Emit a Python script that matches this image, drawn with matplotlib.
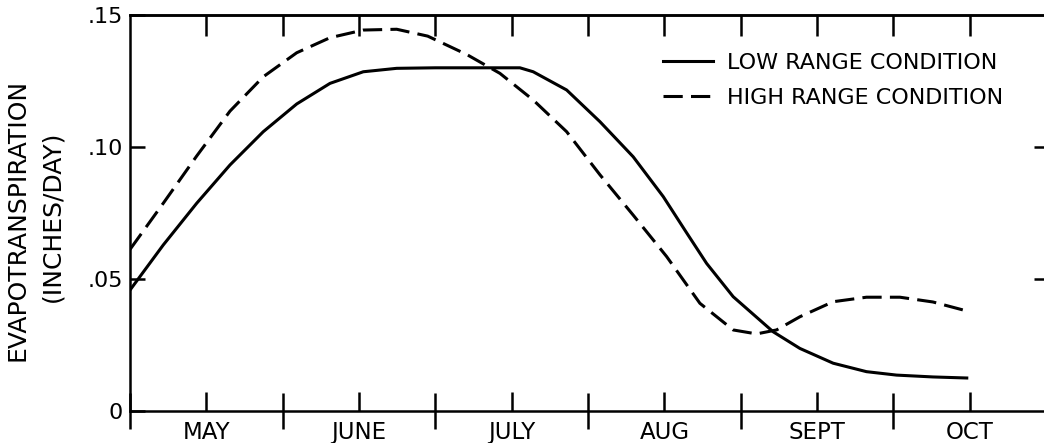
import numpy as np
import matplotlib
matplotlib.use("Agg")
from matplotlib import pyplot as plt

# x in months since May 1
months = ["MAY", "JUNE", "JULY", "AUG", "SEPT", "OCT"]

low_x = [0.0, 0.218, 0.437, 0.655, 0.873, 1.092, 1.310, 1.528, 1.747, 2.0, 2.3,
         2.554, 2.641, 2.860, 3.078, 3.296, 3.493, 3.646, 3.777, 3.951, 4.213,
         4.388, 4.606, 4.824, 5.021, 5.259, 5.481]
low_y = [0.0458, 0.0629, 0.0787, 0.0932, 0.1058, 0.1163, 0.1241, 0.1285, 0.1298, 0.130, 0.130,
         0.130, 0.1285, 0.1216, 0.1096, 0.0963, 0.0812, 0.0675, 0.0559, 0.0433, 0.0300,
         0.0237, 0.0181, 0.0149, 0.0136, 0.0129, 0.0125]

high_x = [0.0, 0.218, 0.437, 0.655, 0.873, 1.092, 1.310, 1.528, 1.747, 1.95, 2.207,
          2.423, 2.641, 2.860, 3.078, 3.296, 3.515, 3.733, 3.951, 4.104, 4.235,
          4.388, 4.606, 4.824, 5.043, 5.259, 5.481]
high_y = [0.0612, 0.0787, 0.0966, 0.1136, 0.1266, 0.1357, 0.1414, 0.1443, 0.1446, 0.142, 0.1350,
          0.1279, 0.1178, 0.1058, 0.0895, 0.0742, 0.0585, 0.0408, 0.0307, 0.0292, 0.0307,
          0.0357, 0.0414, 0.0431, 0.0431, 0.0413, 0.0379]

yticks = [0, 0.05, 0.10, 0.15]
ytick_labels = ["0", ".05", ".10", ".15"]

plt.rcParams['font.family'] = ['DejaVu Sans']

fig = plt.figure(figsize=(10.44, 4.43), dpi=100)
W, H = 1044.0, 443.0
ax = fig.add_axes([130 / W, 32 / H, (1046 - 130) / W, (411 - 15) / H])

ax.plot(low_x, low_y, color='black', lw=2.2, solid_joinstyle='round',
        label="LOW RANGE CONDITION")
ax.plot(high_x, high_y, color='black', lw=2.2, dashes=(6.3, 2.7),
        dash_joinstyle='round', label="HIGH RANGE CONDITION")

ax.set_xlim(0, 6)
ax.set_ylim(0, 0.15)

for s in ax.spines.values():
    s.set_linewidth(1.8)

# bottom: month boundaries cross the axis, labels at mid month
ax.set_xticks(np.arange(0, 7))
ax.set_xticklabels([])
ax.set_xticks(np.arange(0.5, 6, 1), minor=True)
ax.set_xticklabels(months, minor=True, fontsize=16.5)
ax.tick_params(axis='x', which='major', direction='inout', length=26, width=1.8)
ax.tick_params(axis='x', which='minor', direction='in', length=14, width=1.8, pad=7)

ax.set_yticks(yticks)
ax.set_yticklabels(ytick_labels, fontsize=16)
ax.tick_params(axis='y', direction='in', length=11, width=1.8, pad=5)

top = ax.secondary_xaxis('top')
top.set_xticks(np.arange(0.5, 6.5, 0.5))
top.set_xticklabels([])
top.tick_params(direction='in', length=15, width=1.8)
top.spines['top'].set_linewidth(1.8)

right = ax.secondary_yaxis('right')
right.set_yticks([0.05, 0.10])
right.set_yticklabels([])
right.tick_params(direction='in', length=9, width=1.8)

fig.text(17.5 / W, 1 - 220 / H, "EVAPOTRANSPIRATION", rotation=90,
         ha='center', va='center', fontsize=18)
fig.text(52 / W, 1 - 216 / H, "(INCHES/DAY)", rotation=90,
         ha='center', va='center', fontsize=18)

ax.legend(loc='upper left', bbox_to_anchor=(663 / W, 1 - 53 / H),
          bbox_transform=fig.transFigure, frameon=False, fontsize=16,
          handlelength=2.25, handletextpad=0.65, labelspacing=0.66,
          borderpad=0, borderaxespad=0)

fig.savefig("out.png", dpi=100)
